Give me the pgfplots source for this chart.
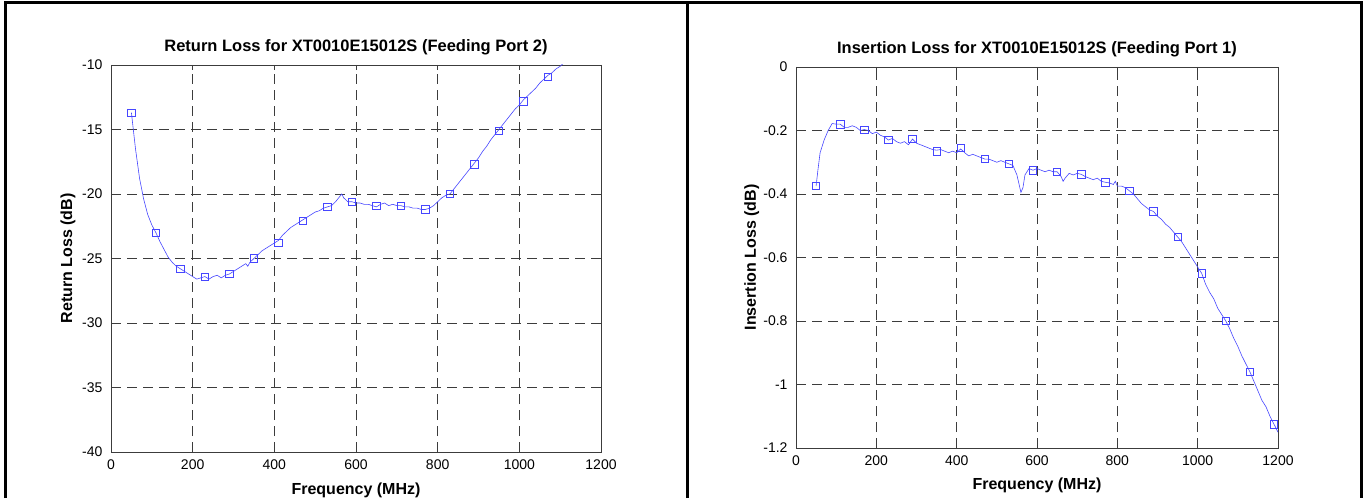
\documentclass[border=0pt]{standalone}
\usepackage{fontspec}
\setmainfont{Liberation Sans}
\usepackage{pgfplots}
\pgfplotsset{compat=1.18}
\definecolor{curve}{RGB}{70,70,255}
\definecolor{gridc}{RGB}{60,60,60}

\pgfplotsset{
  matlab/.style={
    scale only axis,
    xmin=0, xmax=1200,
    xtick={0,200,...,1200},
    grid=major,
    major grid style={gridc, line width=0.9pt, dash pattern=on 10pt off 6pt},
    axis line style={gridc, line width=0.8pt},
    tick style={gridc, line width=0.8pt},
    tick align=inside,
    major tick length=5pt,
    tick label style={font=\fontsize{14}{16}\selectfont},
    xticklabel style={yshift=-4pt},
    yticklabel style={xshift=-5pt},
    /pgf/number format/assume math mode=true,
    /pgf/number format/1000 sep={},
    label style={font=\bfseries\fontsize{16}{18}\selectfont},
    title style={font=\bfseries\fontsize{16.5}{18}\selectfont, at={(0.5,1)}, anchor=base, yshift=7pt},
    xlabel style={at={(axis description cs:0.5,-0.098)}, anchor=center},
    xlabel={Frequency (MHz)},
  },
  curveline/.style={curve, line width=0.6pt, no marks},
  curvemarks/.style={curve, only marks, mark=square, mark size=3.7pt, mark options={line width=0.6pt}},
}

\begin{document}
\begin{tikzpicture}
\useasboundingbox (0,0) rectangle (1367pt,498pt);
\draw[line width=3pt] (5pt,0) -- (5pt,495pt) -- (1361pt,495pt) -- (1361pt,0);
\draw[line width=3pt] (687pt,0) -- (687pt,495pt);

\begin{axis}[matlab,
  at={(111pt,46pt)}, anchor=south west,
  width=490pt, height=387pt,
  ymin=-40, ymax=-10,
  ytick={-40,-35,...,-10},
  title={Return Loss for XT0010E15012S (Feeding Port 2)},
  ylabel={Return Loss (dB)},
  ylabel style={at={(axis description cs:-0.088,0.5)}, anchor=center},
]
\addplot[curveline] coordinates {
(50,-13.7) (60,-16.5) (70,-18.8) (80,-20.4) (90,-21.6) (100,-22.4) (110,-23.0)
(120,-23.7) (130,-24.3) (140,-24.9) (150,-25.3) (160,-25.6) (170,-25.8)
(180,-26.0) (190,-26.2) (200,-26.4) (210,-26.6) (220,-26.5) (230,-26.4)
(240,-26.6) (250,-26.4) (260,-26.3) (270,-26.5) (280,-26.3) (290,-26.2)
(300,-26.0) (310,-25.8) (320,-25.6) (330,-25.4) (335,-25.6) (340,-25.3)
(350,-25.0) (360,-24.7) (370,-24.4) (380,-24.2) (390,-24.0) (400,-23.8)
(410,-23.6) (420,-23.2) (430,-22.9) (440,-22.6) (450,-22.4) (460,-22.2)
(470,-22.0) (480,-21.8) (490,-21.6) (500,-21.4) (510,-21.3) (520,-21.1)
(530,-21.0) (540,-20.9) (550,-20.6) (560,-20.2) (565,-20.0) (570,-20.3)
(580,-20.6) (590,-20.6) (600,-20.7) (610,-20.7) (620,-20.8) (630,-20.8)
(640,-20.9) (650,-21.0) (660,-20.8) (670,-20.7) (680,-20.9) (690,-20.8)
(700,-20.9) (710,-20.9) (720,-21.0) (730,-21.0) (740,-21.1) (750,-21.1)
(760,-21.2) (770,-21.2) (780,-21.1) (790,-20.9) (800,-20.6) (810,-20.3)
(820,-20.1) (830,-20.0) (840,-19.6) (850,-19.2) (860,-18.8) (870,-18.4)
(880,-18.0) (890,-17.6) (900,-17.2) (910,-16.7) (920,-16.3) (930,-15.8)
(940,-15.4) (950,-15.0) (960,-14.6) (970,-14.2) (980,-13.8) (990,-13.4)
(1000,-13.1) (1010,-12.7) (1020,-12.4) (1030,-12.1) (1040,-11.8) (1050,-11.4)
(1060,-11.1) (1070,-10.8) (1080,-10.6) (1090,-10.3) (1100,-10.1) (1110,-9.8)
};
\addplot[curvemarks] coordinates {
(50,-13.7) (110,-23.0) (170,-25.8) (230,-26.4) (290,-26.2) (350,-25.0)
(410,-23.8) (470,-22.1) (530,-21.0) (590,-20.6) (650,-20.9) (710,-20.9)
(770,-21.2) (830,-20.0) (890,-17.7) (950,-15.1) (1010,-12.8) (1070,-10.9)
};
\end{axis}

\begin{axis}[matlab,
  at={(796pt,50pt)}, anchor=south west,
  width=482pt, height=381pt,
  ymin=-1.2, ymax=0,
  ytick={-1.2,-1,-0.8,-0.6,-0.4,-0.2,0},
  title={Insertion Loss for XT0010E15012S (Feeding Port 1)},
  ylabel={Insertion Loss (dB)},
  ylabel style={at={(axis description cs:-0.092,0.5)}, anchor=center},
]
\addplot[curveline] coordinates {
(50,-0.375) (55,-0.32) (60,-0.27) (70,-0.23) (80,-0.20) (90,-0.178) (100,-0.18)
(110,-0.18) (120,-0.19) (130,-0.19) (140,-0.185) (150,-0.19) (160,-0.20)
(170,-0.197) (180,-0.20) (190,-0.21) (200,-0.205) (210,-0.215) (220,-0.22)
(230,-0.23) (240,-0.225) (250,-0.235) (260,-0.24) (270,-0.235) (280,-0.245)
(290,-0.227) (300,-0.24) (310,-0.245) (320,-0.25) (330,-0.255) (340,-0.26)
(350,-0.262) (360,-0.26) (370,-0.265) (380,-0.27) (390,-0.265) (400,-0.27)
(410,-0.258) (420,-0.27) (430,-0.28) (440,-0.275) (450,-0.28) (460,-0.285)
(470,-0.29) (480,-0.29) (490,-0.295) (500,-0.30) (510,-0.295) (520,-0.30)
(530,-0.305) (540,-0.31) (550,-0.34) (560,-0.395) (565,-0.38) (570,-0.34)
(580,-0.32) (590,-0.325) (600,-0.32) (610,-0.325) (620,-0.33) (630,-0.325)
(640,-0.33) (650,-0.33) (660,-0.345) (665,-0.36) (670,-0.35) (680,-0.335)
(690,-0.34) (700,-0.335) (710,-0.338) (720,-0.345) (730,-0.35) (740,-0.355)
(750,-0.35) (760,-0.36) (770,-0.363) (780,-0.365) (790,-0.37) (795,-0.36)
(800,-0.375) (810,-0.375) (820,-0.38) (830,-0.39) (840,-0.40) (850,-0.415)
(860,-0.43) (870,-0.44) (880,-0.45) (890,-0.455) (900,-0.47) (910,-0.48)
(920,-0.495) (930,-0.505) (940,-0.52) (950,-0.535) (960,-0.55) (970,-0.57)
(980,-0.59) (990,-0.61) (1000,-0.63) (1010,-0.65) (1020,-0.685) (1030,-0.71)
(1040,-0.73) (1050,-0.76) (1060,-0.78) (1070,-0.80) (1080,-0.825) (1090,-0.855)
(1100,-0.88) (1110,-0.91) (1120,-0.935) (1130,-0.96) (1140,-0.99) (1150,-1.02)
(1160,-1.05) (1170,-1.07) (1180,-1.10) (1190,-1.125) (1200,-1.15)
};
\addplot[curvemarks] coordinates {
(50,-0.375) (110,-0.18) (170,-0.197) (230,-0.23) (290,-0.227) (350,-0.265)
(410,-0.255) (470,-0.29) (530,-0.305) (590,-0.325) (650,-0.33) (710,-0.338)
(770,-0.363) (830,-0.39) (890,-0.455) (950,-0.535) (1010,-0.65) (1070,-0.80)
(1130,-0.96) (1190,-1.125)
};
\end{axis}
\end{tikzpicture}
\end{document}
